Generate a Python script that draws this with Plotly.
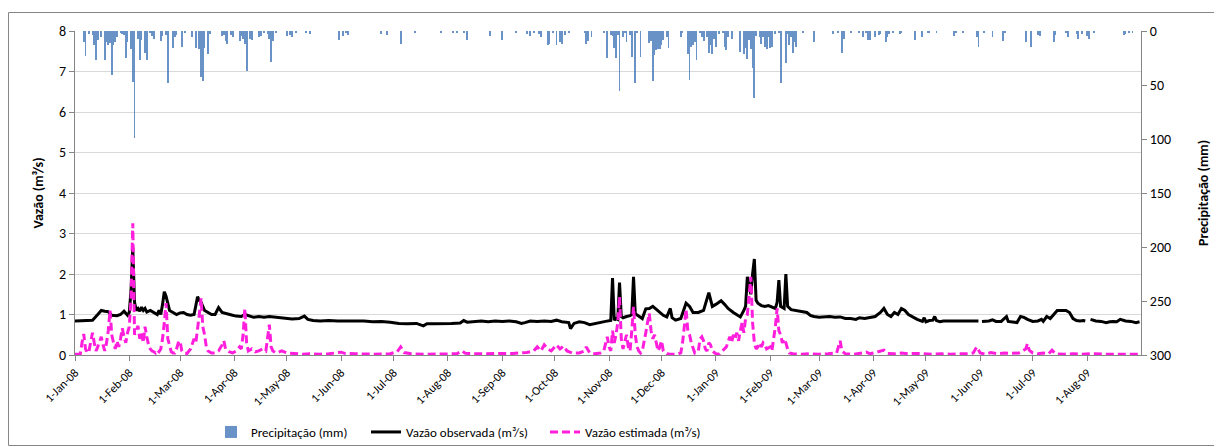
import pandas as pd
import plotly.graph_objects as go

# ---------------- data (day offsets from 1-Jan-2008) ----------------
START = "2008-01-01"

obs_day = [0, 5, 8, 10, 13, 15, 17, 19, 21, 24, 26, 28, 30, 31, 32, 33, 34, 35, 36, 37, 38, 39, 40, 41, 43, 45,
           47, 48, 49, 50, 51, 52, 53, 54, 56, 58, 60, 62, 64, 66, 68, 70, 71, 72, 73, 74, 76, 78, 80, 82, 84,
           86, 88, 90, 92, 95, 97, 99, 102, 105, 108, 111, 114, 117, 120, 124, 128, 131, 133, 136, 140, 145,
           150, 155, 160, 165, 170, 175, 180, 185, 190, 195, 199, 201, 205, 210, 215, 220, 222, 224, 228, 232,
           236, 240, 244, 248, 252, 255, 257, 260, 264, 268, 272, 275, 278, 282, 283, 285, 288, 291, 294, 297,
           300, 303, 306, 307, 308, 309, 310, 311, 312, 313, 315, 317, 318, 319, 320, 322, 324, 326, 328, 330,
           332, 334, 336, 338, 340, 341, 343, 346, 349, 351, 353, 356, 359, 362, 364, 366, 369, 371, 373, 376,
           379, 380, 382, 383, 384, 385, 386, 387, 388, 389, 390, 392, 394, 396, 398, 400, 401, 402, 403, 405,
           406, 407, 409, 412, 415, 418, 420, 422, 425, 428, 431, 434, 437, 440, 443, 446, 448, 451, 454, 457,
           460, 462, 464, 466, 468, 470, 472, 474, 476, 478, 481, 484, 485, 486, 488, 490, 491, 492, 494, 496,
           500, 505, 510, 514, 516, 517, 518, 519, 522, 524, 526, 529, 532, 533, 536, 538, 540, 542, 544, 547,
           550, 552, 553, 555, 557, 559, 561, 563, 566, 568, 570, 572, 574, 576, 577, 578, 580, 583, 586, 589,
           591, 593, 595, 597, 600, 603, 606, 608]
obs_val = [0.84, 0.85, 0.84, 0.86, 1.0, 1.1, 1.08, 1.07, 0.98, 0.97, 1.0, 1.08, 0.98, 1.05, 1.6, 2.65, 1.3, 1.1,
           1.15, 1.08, 1.18, 1.1, 1.15, 1.06, 1.1, 1.05, 1.0, 1.1, 1.0, 1.25, 1.56, 1.45, 1.25, 1.1, 1.05, 1.0,
           1.04, 1.05, 1.0, 0.98, 1.0, 1.44, 1.35, 1.3, 1.2, 1.1, 1.05, 1.0, 1.0, 1.17, 1.05, 1.02, 1.0, 0.98,
           0.96, 0.95, 1.0, 0.97, 0.93, 0.95, 0.93, 0.95, 0.94, 0.92, 0.91, 0.89, 0.9, 0.96, 0.88, 0.85, 0.84,
           0.85, 0.84, 0.84, 0.83, 0.84, 0.82, 0.83, 0.81, 0.78, 0.77, 0.78, 0.72, 0.77, 0.77, 0.77, 0.78, 0.79,
           0.85, 0.81, 0.83, 0.84, 0.82, 0.84, 0.83, 0.84, 0.82, 0.78, 0.8, 0.84, 0.83, 0.84, 0.83, 0.86, 0.82,
           0.8, 0.65, 0.78, 0.82, 0.8, 0.75, 0.78, 0.8, 0.83, 0.85, 1.9, 0.86, 0.9, 0.88, 1.79, 0.95, 0.92, 0.95,
           0.97, 1.0, 1.93, 1.02, 0.95, 0.9, 1.14, 1.15, 1.2, 1.12, 1.05, 0.98, 0.94, 1.15, 0.92, 0.86, 0.9,
           1.28, 1.2, 1.05, 1.05, 1.1, 1.54, 1.2, 1.25, 1.34, 1.25, 1.15, 1.05, 0.98, 0.94, 1.1, 1.2, 1.93, 1.7,
           1.5, 2.0, 2.37, 1.35, 1.28, 1.22, 1.2, 1.22, 1.18, 1.15, 1.3, 1.85, 1.2, 1.15, 2.0, 1.2, 1.12, 1.1,
           1.08, 1.05, 0.98, 0.95, 0.93, 0.94, 0.95, 0.93, 0.94, 0.9, 0.9, 0.88, 0.92, 0.9, 0.92, 0.95, 1.05,
           1.15, 1.0, 0.95, 1.05, 1.0, 1.15, 1.1, 1.0, 0.95, 0.88, 0.83, 0.92, 0.82, 0.85, 0.86, 0.95, 0.85,
           0.82, 0.84, 0.84, 0.84, 0.84, 0.84, 0.84, None, 0.83, 0.83, 0.84, 0.87, 0.83, 0.83, 0.95, 0.83, 0.82,
           0.8, 0.95, 0.93, 0.88, 0.83, 0.84, 0.88, 0.83, 0.95, 0.9, 1.0, 1.1, 1.1, 1.1, 1.05, 0.9, 0.85, 0.84,
           0.85, 0.84, None, 0.88, 0.84, 0.83, 0.8, 0.82, 0.83, 0.82, 0.88, 0.84, 0.83, 0.8, 0.82, 0.81]

est_day = [0, 3, 4, 5, 6, 7, 8, 9, 10, 11, 12, 13, 14, 15, 16, 17, 18, 19, 20, 21, 22, 23, 24, 25, 26, 27, 28,
           29, 30, 31, 32, 33, 34, 35, 36, 37, 38, 39, 40, 41, 42, 43, 44, 45, 46, 47, 48, 49, 50, 51, 52, 53,
           54, 55, 56, 57, 58, 59, 60, 61, 62, 64, 66, 67, 68, 69, 70, 71, 72, 73, 74, 75, 76, 78, 80, 82, 84,
           85, 86, 88, 90, 92, 94, 95, 96, 97, 98, 99, 101, 103, 105, 107, 109, 110, 111, 112, 113, 115, 118,
           121, 125, 130, 135, 140, 145, 150, 152, 154, 158, 160, 170, 180, 184, 186, 188, 192, 200, 210, 218,
           221, 223, 230, 240, 250, 258, 262, 264, 266, 268, 270, 272, 275, 277, 279, 281, 284, 288, 291, 292,
           294, 297, 300, 302, 303, 304, 305, 306, 307, 308, 309, 310, 311, 312, 313, 314, 315, 316, 317, 318,
           319, 320, 321, 322, 323, 324, 325, 326, 327, 328, 329, 330, 331, 332, 333, 334, 335, 336, 338, 340,
           344, 346, 347, 348, 349, 350, 351, 352, 353, 354, 356, 357, 358, 359, 360, 361, 362, 363, 364, 366,
           368, 370, 372, 374, 375, 376, 377, 378, 379, 380, 381, 382, 383, 384, 385, 386, 387, 388, 389, 390,
           391, 392, 393, 394, 395, 397, 398, 400, 401, 402, 403, 404, 405, 406, 407, 408, 410, 415, 420, 425,
           430, 435, 436, 437, 438, 440, 445, 448, 450, 452, 454, 457, 460, 462, 464, 468, 472, 476, 480, 485,
           490, 495, 500, 505, 510, 513, 515, 517, 520, 523, 527, 531, 535, 539, 541, 543, 544, 545, 547, 550,
           553, 556, 558, 560, 565, 570, 575, 580, 590, 600, 608]
est_val = [0.02, 0.02, 0.3, 0.52, 0.15, 0.05, 0.1, 0.3, 0.55, 0.3, 0.1, 0.2, 0.35, 0.45, 0.25, 0.1, 0.3, 0.6,
           1.1, 0.5, 0.3, 0.15, 0.35, 0.2, 0.4, 0.66, 0.45, 0.3, 0.55, 0.7, 1.4, 3.25, 0.5, 0.6, 0.72, 0.4,
           0.55, 0.3, 0.7, 0.45, 0.25, 0.15, 0.1, 0.08, 0.05, 0.12, 0.08, 0.15, 0.4, 0.8, 1.28, 0.4, 0.2, 0.08,
           0.05, 0.05, 0.15, 0.3, 0.35, 0.1, 0.05, 0.04, 0.15, 0.3, 0.4, 0.3, 0.6, 1.0, 1.4, 0.7, 0.5, 0.2, 0.1,
           0.05, 0.05, 0.1, 0.25, 0.35, 0.15, 0.08, 0.05, 0.1, 0.2, 0.15, 0.5, 1.15, 0.3, 0.1, 0.15, 0.08, 0.1,
           0.15, 0.1, 0.4, 0.75, 0.2, 0.1, 0.05, 0.1, 0.05, 0.03, 0.02, 0.03, 0.02, 0.03, 0.05, 0.07, 0.04, 0.03,
           0.03, 0.02, 0.03, 0.08, 0.2, 0.06, 0.03, 0.02, 0.02, 0.03, 0.1, 0.04, 0.03, 0.03, 0.04, 0.06, 0.1, 0.2,
           0.1, 0.25, 0.15, 0.1, 0.25, 0.15, 0.22, 0.1, 0.05, 0.05, 0.1, 0.2, 0.05, 0.03, 0.05, 0.1, 0.25, 0.45,
           0.2, 0.1, 0.6, 0.3, 0.5, 0.8, 1.44, 0.4, 0.15, 0.3, 0.5, 0.2, 0.1, 0.6, 1.19, 0.5, 0.2, 0.1, 0.05, 0.1,
           0.3, 0.55, 0.8, 1.03, 0.6, 0.4, 0.5, 0.3, 0.1, 0.2, 0.35, 0.1, 0.03, 0.02, 0.02, 0.05, 0.3, 0.7, 1.13,
           0.6, 0.5, 0.3, 0.15, 0.05, 0.1, 0.4, 0.45, 0.35, 0.15, 0.1, 0.3, 0.25, 0.1, 0.03, 0.02, 0.1, 0.2, 0.45,
           0.3, 0.5, 0.4, 0.55, 0.35, 0.6, 0.8, 0.55, 0.9, 1.0, 1.5, 1.93, 0.8, 0.3, 0.15, 0.2, 0.3, 0.2, 0.3,
           0.25, 0.15, 0.2, 0.1, 0.7, 1.15, 0.6, 0.5, 0.3, 0.4, 0.3, 0.15, 0.05, 0.03, 0.02, 0.03, 0.02, 0.03,
           0.05, 0.2, 0.35, 0.1, 0.03, 0.02, 0.03, 0.05, 0.07, 0.03, 0.06, 0.1, 0.12, 0.04, 0.03, 0.05, 0.03,
           0.04, 0.03, 0.02, 0.03, 0.02, 0.03, 0.03, 0.05, 0.2, 0.05, 0.02, 0.06, 0.03, 0.05, 0.04, 0.05, 0.1,
           0.15, 0.28, 0.12, 0.05, 0.03, 0.05, 0.03, 0.12, 0.03, 0.02, 0.03, 0.02, 0.03, 0.02, 0.02, 0.02]

prec_day = [5, 6, 8, 10, 11, 12, 13, 15, 17, 18, 19, 20, 21, 22, 23, 24, 26, 27, 28, 29, 30, 32, 33, 34, 36, 37,
            38, 40, 41, 43, 44, 45, 49, 50, 52, 53, 56, 57, 58, 61, 63, 67, 69, 71, 72, 73, 74, 76, 77, 84, 85,
            86, 87, 89, 90, 94, 95, 96, 97, 98, 100, 101, 105, 106, 108, 110, 111, 112, 113, 115, 121, 123, 124,
            126, 132, 134, 151, 153, 155, 156, 175, 178, 186, 194, 209, 216, 218, 222, 224, 237, 244, 252, 258,
            260, 262, 265, 266, 270, 271, 273, 275, 277, 278, 280, 282, 291, 292, 293, 295, 302, 304, 306, 307,
            308, 309, 310, 311, 313, 314, 315, 317, 318, 320, 321, 323, 328, 329, 330, 331, 332, 333, 334, 335,
            336, 338, 339, 346, 347, 350, 351, 352, 353, 354, 355, 357, 358, 359, 361, 362, 363, 364, 365, 366,
            368, 370, 371, 372, 373, 375, 380, 382, 383, 384, 385, 386, 387, 388, 389, 391, 392, 393, 394, 395,
            396, 397, 398, 400, 402, 403, 406, 407, 408, 409, 410, 411, 412, 416, 422, 433, 436, 438, 439, 443,
            448, 450, 452, 453, 454, 457, 459, 460, 463, 464, 465, 467, 471, 472, 480, 484, 487, 488, 492, 502,
            503, 507, 515, 516, 519, 524, 530, 531, 543, 546, 550, 551, 559, 560, 566, 567, 572, 573, 575, 578,
            579, 582, 599, 600, 602, 604]
prec_mm = [10, 23, 3, 4, 13, 27, 8, 6, 27, 10, 13, 11, 41, 13, 10, 6, 2, 3, 4, 25, 10, 17, 47, 99, 7, 27, 8, 20,
           27, 2, 5, 7, 9, 5, 4, 48, 16, 6, 4, 15, 2, 6, 16, 17, 43, 46, 16, 21, 3, 5, 4, 9, 12, 4, 6, 9, 5, 7,
           12, 37, 7, 8, 6, 5, 2, 3, 7, 29, 9, 2, 5, 4, 6, 2, 2, 3, 8, 5, 2, 4, 3, 4, 12, 2, 2, 2, 2, 2, 8, 5, 8,
           2, 3, 5, 2, 3, 6, 13, 12, 2, 13, 10, 12, 4, 2, 2, 12, 9, 6, 2, 25, 4, 5, 16, 25, 4, 56, 6, 2, 10, 4,
           24, 48, 2, 24, 11, 9, 46, 22, 18, 17, 17, 13, 8, 6, 16, 6, 2, 21, 45, 15, 13, 10, 27, 1, 6, 9, 6, 20,
           13, 21, 7, 15, 3, 2, 15, 18, 6, 7, 19, 21, 16, 26, 8, 17, 34, 62, 5, 6, 12, 6, 15, 17, 6, 16, 15, 3,
           2, 48, 30, 3, 13, 6, 20, 10, 15, 1, 10, 3, 1, 20, 7, 2, 1, 6, 2, 8, 8, 6, 4, 3, 10, 6, 3, 1, 3, 1, 8,
           6, 1, 1, 1, 5, 2, 1, 6, 15, 2, 6, 9, 2, 10, 15, 4, 5, 10, 4, 1, 6, 3, 7, 3, 5, 7, 1, 4, 3, 1, 1]

names = ["Precipitação (mm)", "Vazão observada (m³/s)", "Vazão estimada (m³/s)"]
left_title = "Vazão (m³/s)"
right_title = "Precipitação (mm)"

# ---------------- figure ----------------
base = pd.Timestamp(START)
to_dates = lambda d: base + pd.to_timedelta(d, unit="D")

FONT = "Carlito, Calibri, Lato, sans-serif"
PINK = "#FF1EDC"
BLUE = "#4F81BD"
DAY_MS = 86400000

fig = go.Figure()
fig.add_trace(go.Bar(
    x=to_dates(prec_day), y=prec_mm, name=names[0], yaxis="y2",
    marker=dict(color=BLUE, line=dict(width=0)), opacity=0.85, width=0.5 * DAY_MS,
    legend="legend",
))
fig.add_trace(go.Scatter(
    x=to_dates(obs_day), y=obs_val, name=names[1], mode="lines",
    line=dict(color="black", width=3), connectgaps=False, legend="legend2",
))
fig.add_trace(go.Scatter(
    x=to_dates(est_day), y=est_val, name=names[2], mode="lines",
    line=dict(color=PINK, width=3, dash="8px,4px"), legend="legend3",
))

# page body has an 8px margin: work in figure pixels = screen pixels - 8
OFF = 8
W, H = 1222 - OFF, 447 - OFF
L, T = 75 - OFF, 31 - OFF
R = W - (1141 - OFF)
B = H - (355 - OFF)
pw, ph = W - L - R, H - T - B

def px_x(x):  # screen x -> paper
    return (x - OFF - L) / pw

def px_y(y):  # screen y -> paper
    return (H - B - (y - OFF)) / ph

leg_common = dict(orientation="h", yanchor="middle", xanchor="left", y=px_y(432),
                  font=dict(family=FONT, size=13, color="#000"), bgcolor="rgba(0,0,0,0)",
                  borderwidth=0)

fig.update_layout(
    width=W, height=H,
    margin=dict(l=L, r=R, t=T, b=B, autoexpand=False),
    paper_bgcolor="white", plot_bgcolor="white",
    font=dict(family=FONT, size=13, color="#000"),
    showlegend=True,
    legend=dict(x=px_x(211), **leg_common),
    legend2=dict(x=px_x(366), **leg_common),
    legend3=dict(x=px_x(545), **leg_common),
    bargap=0,
    xaxis=dict(
        type="date", range=[base, base + pd.Timedelta(days=608, hours=20)],
        tickmode="linear", tick0=START, dtick="M1", tickformat="%-d-%b-%y",
        tickangle=-45, tickfont=dict(size=12, family=FONT),
        ticks="outside", ticklen=5, tickcolor="#868686",
        showline=True, linecolor="#868686", linewidth=1,
        showgrid=False, zeroline=False, automargin=False,
    ),
    yaxis=dict(
        range=[0, 8], dtick=1, tickfont=dict(size=14, family=FONT),
        ticks="outside", ticklen=5, tickcolor="#868686",
        showline=True, linecolor="#868686", linewidth=1,
        showgrid=True, gridcolor="#D9D9D9", gridwidth=1, zeroline=False, automargin=False,
        title=dict(text=left_title, font=dict(size=14, family=FONT, color="#000", weight="bold"), standoff=12),
    ),
    yaxis2=dict(
        overlaying="y", side="right", range=[300, 0], dtick=50,
        tickfont=dict(size=14, family=FONT),
        ticks="outside", ticklen=5, tickcolor="#868686",
        showline=True, linecolor="#868686", linewidth=1,
        showgrid=False, zeroline=False, automargin=False,
        title=dict(text=right_title, font=dict(size=14, family=FONT, color="#000", weight="bold"), standoff=28),
    ),
    shapes=[dict(type="rect", xref="paper", yref="paper",
                 x0=px_x(8.5), x1=px_x(1220.5), y0=px_y(445.5), y1=px_y(12.5),
                 line=dict(color="#868686", width=1), fillcolor="rgba(0,0,0,0)", layer="below")],
)

fig.write_html("out.html")
